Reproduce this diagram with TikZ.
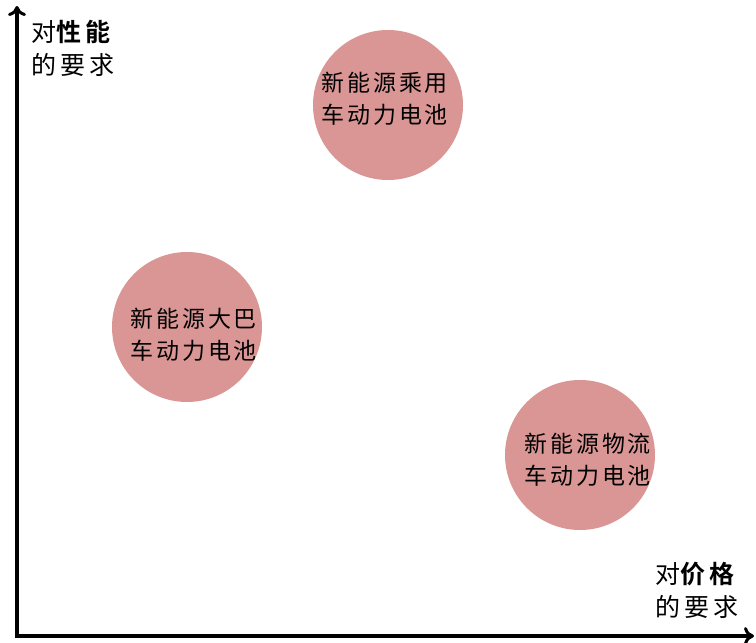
\documentclass[tikz,border=0pt]{standalone}
\usepackage{fontspec}
\newfontfamily\cjk[LetterSpace=12]{Noto Sans CJK SC}
\newfontfamily\cjka[LetterSpace=17]{Noto Sans CJK SC}
\newfontfamily\cjkb[LetterSpace=17]{Noto Sans CJK SC Bold}
\usetikzlibrary{arrows.meta}
\definecolor{bubble}{HTML}{DA9695}
\begin{document}
\begin{tikzpicture}[x=1pt,y=-1pt,
  bub/.style={circle,fill=bubble,minimum size=150pt,inner sep=0pt},
  lbl/.style={font=\cjk\fontsize{23}{32}\selectfont,align=center,inner sep=0pt},
  axl/.style={font=\cjka\fontsize{25}{33}\selectfont,align=left,inner sep=0pt,anchor=north west},
  axis/.style={line width=3.5pt,-{To[length=10pt,width=18pt,line width=3pt]}}]
\useasboundingbox (0,0) rectangle (756,643);
\coordinate (o) at (17,636);
\coordinate (ytop) at (17,6);
\coordinate (xend) at (754,636);
\draw[axis] (o) -- (ytop);
\draw[axis] ([xshift=-1.75pt]o) -- (xend);
\node[bub] (c1) at (388,105) {};
\node[bub] (c2) at (187,327) {};
\node[bub] (c3) at (580,455) {};
\node[lbl] (t1) at (385,99) {新能源乘用\\车动力电池};
\node[lbl] (t2) at (194,335) {新能源大巴\\车动力电池};
\node[lbl] (t3) at (588,460) {新能源物流\\车动力电池};
\node[axl] (ay) at (31,20) {对{\cjkb 性能}\\的要求};
\node[axl] (ax) at (655,562) {对{\cjkb 价格}\\的要求};
\end{tikzpicture}
\end{document}
